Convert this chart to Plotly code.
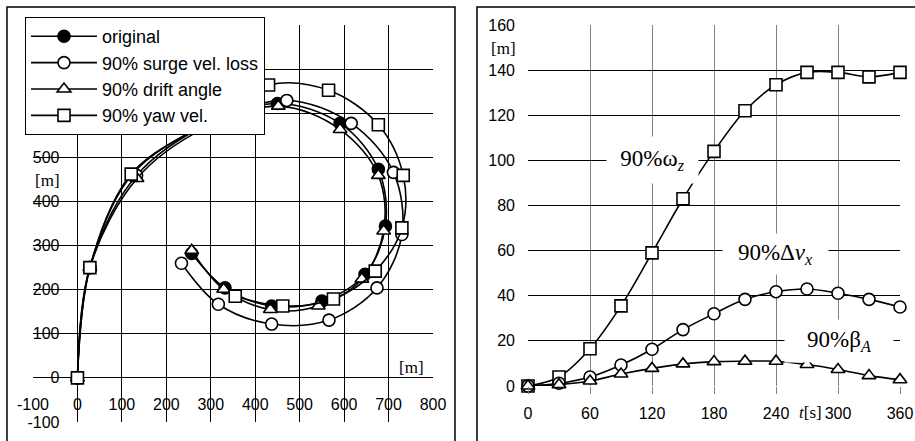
import plotly.graph_objects as go

W, H = 915, 441

# ---------------- data ----------------
# left panel: trajectories x [m], y [m], samples every 30 s
orig_x = [0, 28, 123, 282, 450, 591, 677, 693, 647, 550, 437, 332, 257]
orig_y = [0, 250, 461, 570, 622, 577, 473, 344, 235, 174, 163, 204, 282]
surge_x = [0, 28, 133, 298, 471, 616, 711, 730, 674, 566, 437, 317, 234]
surge_y = [0, 250, 459, 578, 629, 577, 466, 325, 204, 131, 122, 167, 260]
drift_x = [0, 28, 134, 284, 452, 591, 677, 689, 640, 542, 434, 329, 257]
drift_y = [0, 250, 452, 565, 616, 563, 459, 333, 224, 163, 155, 201, 289]
yaw_x = [0, 28, 121, 287, 430, 565, 677, 733, 730, 670, 576, 462, 355]
yaw_y = [0, 250, 462, 577, 664, 652, 574, 459, 340, 242, 179, 163, 185]
legend_names = ["original", "90% surge vel. loss", "90% drift angle", "90% yaw vel."]

# right panel: deviation [m] vs time t [s]
t = [0, 30, 60, 90, 120, 150, 180, 210, 240, 270, 300, 330, 360]
dev_omega = [0, 4, 16.5, 35.5, 59, 83, 104, 122, 133.5, 139, 139, 137, 139]
dev_dvx = [0, 1.2, 4, 9.3, 16.3, 25, 32, 38.4, 41.8, 43, 41.1, 38.4, 35]
dev_beta = [0, 0.6, 2.2, 5.3, 7.8, 9.8, 10.8, 11, 11, 9.5, 7.3, 4.6, 2.8]

left_xticks = [-100, 0, 100, 200, 300, 400, 500, 600, 700, 800]
left_xticktext = ["-100", "0", "100", "200", "300", "400", "500", "600", "700", "800"]
left_yticks = [-100, 0, 100, 200, 300, 400, 500, 600, 700, 800]
left_yticktext = ["-100", "0", "100", "200", "300", "400", "500", "600", "700", "800"]
right_xticks = [0, 60, 120, 180, 240, 300, 360]
right_yticks = [0, 20, 40, 60, 80, 100, 120, 140, 160]

# ---------------- layout geometry ----------------
L_X0, L_X1 = 33 / W, 433 / W
L_Y0, L_Y1 = (H - 422) / H, (H - 25) / H
R_X0, R_X1 = 528 / W, 900 / W
R_Y0, R_Y1 = (H - 386) / H, (H - 25) / H

LXR = [-100, 800]
LYR = [-100, 800]

x0_pos = L_X0 + (0 - LXR[0]) / (LXR[1] - LXR[0]) * (L_X1 - L_X0)
y0_pos = L_Y0 + (0 - LYR[0]) / (LYR[1] - LYR[0]) * (L_Y1 - L_Y0)

SANS = "Arial, Liberation Sans, sans-serif"
SERIF = "Times New Roman, Liberation Serif, serif"

fig = go.Figure()

line_style = dict(color="black", width=1.6, shape="spline", smoothing=1.0)

def mk(symbol, fill):
    return dict(symbol=symbol, size=12, color=fill, line=dict(color="black", width=1.6))

series = [
    (orig_x, orig_y, mk("circle", "black")),
    (surge_x, surge_y, mk("circle", "white")),
    (drift_x, drift_y, mk("triangle-up", "white")),
    (yaw_x, yaw_y, mk("square", "white")),
]
for (xs, ys, m), name in zip(series, legend_names):
    fig.add_trace(go.Scatter(x=xs, y=ys, mode="lines+markers", name=name,
                             line=line_style, marker=m, cliponaxis=False,
                             xaxis="x", yaxis="y"))

for ys, m in [(dev_omega, mk("square", "white")),
              (dev_dvx, mk("circle", "white")),
              (dev_beta, mk("triangle-up", "white"))]:
    fig.add_trace(go.Scatter(x=t, y=ys, mode="lines+markers", showlegend=False,
                             line=line_style, marker=m, cliponaxis=False,
                             xaxis="x2", yaxis="y2"))

tickfont = dict(family=SANS, size=16, color="black")

fig.update_layout(
    width=W, height=H,
    margin=dict(l=0, r=0, t=0, b=0, autoexpand=False),
    paper_bgcolor="white", plot_bgcolor="white",
    showlegend=True,
    legend=dict(x=25 / W, y=(H - 17) / H, xanchor="left", yanchor="top",
                bgcolor="white", bordercolor="black", borderwidth=1,
                font=dict(family=SANS, size=18, color="black"),
                itemwidth=66, tracegroupgap=0),
    xaxis=dict(domain=[L_X0, L_X1], range=LXR, anchor="free", position=y0_pos,
               tickvals=left_xticks, ticktext=left_xticktext, ticks="",
               showline=False, zeroline=False, automargin=False,
               showgrid=True, gridcolor="black", gridwidth=1,
               tickfont=tickfont, ticklabelstandoff=15),
    yaxis=dict(domain=[L_Y0, L_Y1], range=LYR, anchor="free", position=x0_pos,
               tickvals=left_yticks, ticktext=left_yticktext, ticks="",
               showline=False, zeroline=False, automargin=False,
               showgrid=True, gridcolor="black", gridwidth=1,
               tickfont=tickfont, ticklabelstandoff=18),
    xaxis2=dict(domain=[R_X0, R_X1], range=[0, 360], anchor="y2",
                tickvals=right_xticks, ticks="outside", ticklen=7, tickcolor="#808080",
                showline=False, zeroline=False, automargin=False,
                showgrid=True, gridcolor="#808080", gridwidth=1,
                tickfont=tickfont, ticklabelstandoff=6),
    yaxis2=dict(domain=[R_Y0, R_Y1], range=[0, 160], anchor="x2",
                tickvals=right_yticks, ticks="", showline=False, zeroline=False,
                automargin=False,
                showgrid=True, gridcolor="black", gridwidth=1,
                tickfont=tickfont, ticklabelstandoff=12),
)

# panel frames
fig.add_shape(type="rect", xref="paper", yref="paper",
              x0=7 / W, x1=455 / W, y0=-0.1, y1=(H - 7) / H,
              line=dict(color="black", width=1.5), fillcolor="rgba(0,0,0,0)")
fig.add_shape(type="rect", xref="paper", yref="paper",
              x0=477 / W, x1=1.1, y0=-0.1, y1=(H - 7) / H,
              line=dict(color="black", width=1.5), fillcolor="rgba(0,0,0,0)")

def ann(text, px, py, font, **kw):
    return dict(text=text, x=px / W, y=(H - py) / H, xref="paper", yref="paper",
                xanchor="center", yanchor="middle", font=font, showarrow=False, **kw)

serif = dict(family=SERIF, size=17, color="black")
big = dict(family=SERIF, size=23, color="black")
anns = [
    ann("[m]", 47, 180, serif),
    ann("[m]", 411, 367, serif),
    ann("[m]", 503, 48, serif),
    ann("<i>t</i>[s]", 810, 412, serif),
    ann("90%ω<sub><i>z</i></sub>", 652, 160, big, bgcolor="white", borderpad=4,
        width=83, height=38),
    ann("90%Δ<i>v<sub>x</sub></i>", 775, 254, big, bgcolor="white", borderpad=4,
        width=97, height=32),
    ann("90%β<sub><i>A</i></sub>", 839, 341, big, bgcolor="white", borderpad=4,
        width=100, height=34),
]
fig.update_layout(annotations=anns)

fig.write_html("out.html")
